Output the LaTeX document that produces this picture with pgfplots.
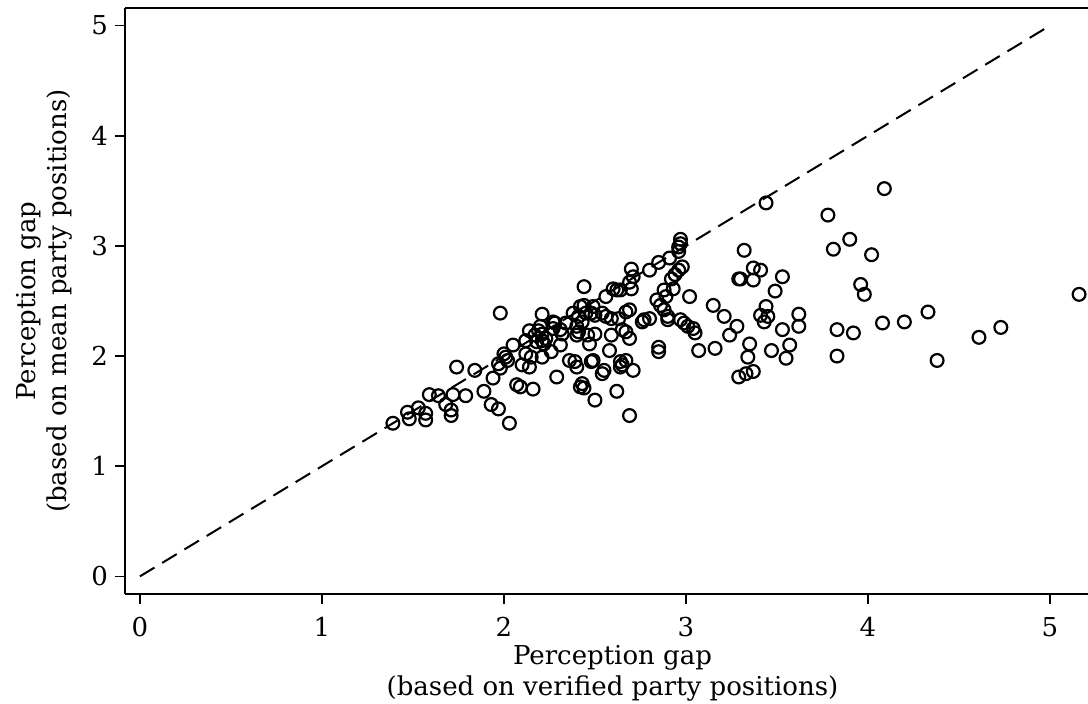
\documentclass[border=0pt]{standalone}
\usepackage{pgfplots}
\pgfplotsset{compat=1.18}
\usepackage{fontspec}
\setmainfont{DejaVu Serif}
\begin{document}
\begin{tikzpicture}
\begin{axis}[
  at={(62.5pt,55pt)}, anchor=south west,
  scale only axis, width=481.5pt, height=293pt,
  xmin=-0.082, xmax=5.209, ymin=-0.16, ymax=5.16,
  axis x line=box, axis y line=left,
  axis line style={-, line width=0.75pt},
  xtick={0,1,2,3,4,5}, ytick={0,1,2,3,4,5},
  xtick pos=bottom, ytick pos=left,
  tick align=outside, major tick length=5pt,
  tick style={black, line width=0.75pt},
  /pgf/number format/assume math mode=true,
  ticklabel style={font=\fontsize{13}{15}\selectfont},
  xticklabel style={yshift=-3pt},
  label style={font=\fontsize{13}{15.5}\selectfont, align=center},
  xlabel={Perception gap\\(based on verified party positions)},
  ylabel={Perception gap\\(based on mean party positions)},
  xlabel style={at={(axis description cs:0.5,0)}, anchor=north, yshift=-22pt, xshift=3pt},
  ylabel style={at={(ticklabel cs:0.5,2.5pt)}},
]
\addplot[black, line width=1pt, dash pattern=on 8.5pt off 4.5pt] coordinates {(0,0) (5,5)};
\addplot[only marks, mark=o, mark size=3.2pt, mark options={line width=1.1pt, black}] coordinates {
(1.39,1.39) (1.47,1.49) (1.48,1.43) (1.53,1.53) (1.57,1.48) (1.57,1.42) (1.59,1.65) (1.64,1.64)
(1.68,1.56) (1.71,1.51) (1.71,1.46) (1.72,1.65) (1.74,1.90) (1.79,1.64) (1.84,1.87) (1.89,1.68)
(1.93,1.56) (1.97,1.52) (1.94,1.80) (1.97,1.93) (1.98,1.89) (1.98,2.39) (2.00,2.02) (2.01,1.99)
(2.02,1.96) (2.03,1.39) (2.05,2.10)
(2.07,1.74) (2.09,1.72) (2.10,1.92) (2.12,2.02) (2.15,1.99) (2.14,1.90) (2.16,1.70) (2.12,2.14)
(2.14,2.23) (2.17,2.19) (2.18,2.13) (2.19,2.23) (2.20,2.27) (2.21,2.20) (2.21,2.14) (2.22,2.11)
(2.23,2.16) (2.21,2.38) (2.21,1.99) (2.26,2.04) (2.27,2.31) (2.28,2.30) (2.27,2.25) (2.29,1.81)
(2.31,2.10) (2.31,2.24) (2.32,2.20) (2.34,2.30)
(2.36,1.96) (2.39,1.95) (2.40,1.90) (2.38,2.39) (2.42,2.45) (2.44,2.46) (2.45,2.39) (2.41,2.36)
(2.43,2.31) (2.40,2.27) (2.41,2.22) (2.40,2.19) (2.48,2.39) (2.50,2.37) (2.44,2.63) (2.42,1.72)
(2.43,1.75) (2.44,1.71) (2.46,2.19) (2.50,2.20) (2.47,2.11) (2.48,1.95) (2.49,1.96) (2.50,1.60)
(2.49,2.45) (2.54,2.39) (2.55,1.87) (2.54,1.84) (2.56,2.54) (2.56,2.36)
(2.58,2.05) (2.59,2.19) (2.59,2.34) (2.60,2.61) (2.62,2.60) (2.64,2.60) (2.63,2.34) (2.62,1.68)
(2.64,1.95) (2.65,1.92) (2.67,1.96) (2.64,1.90) (2.65,2.24) (2.67,2.22) (2.69,2.16) (2.67,2.40)
(2.69,2.42) (2.69,1.46) (2.70,2.61) (2.70,2.79) (2.71,2.72) (2.69,2.67) (2.71,1.87)
(2.76,2.31) (2.77,2.33) (2.80,2.34) (2.80,2.78) (2.85,2.85) (2.85,2.08) (2.85,2.04) (2.84,2.51)
(2.86,2.46) (2.88,2.42) (2.90,2.36) (2.90,2.33) (2.88,2.60) (2.93,2.61) (2.89,2.54) (2.91,2.89)
(2.97,3.06) (2.97,3.02) (2.96,2.99) (2.96,2.95) (2.98,2.81) (2.96,2.78) (2.94,2.74) (2.92,2.70)
(2.97,2.33) (2.99,2.30) (3.01,2.27) (3.04,2.25) (3.05,2.21) (3.02,2.54) (3.07,2.05) (3.15,2.46)
(3.16,2.07) (3.21,2.36) (3.24,2.19) (3.28,2.27) (3.32,2.96) (3.29,2.70) (3.30,2.70) (3.37,2.69)
(3.37,2.80) (3.41,2.78) (3.44,3.39) (3.29,1.81) (3.33,1.84) (3.37,1.86) (3.35,2.11) (3.34,1.99)
(3.41,2.37) (3.44,2.45) (3.45,2.36) (3.43,2.31) (3.47,2.05) (3.49,2.59) (3.53,2.72) (3.53,2.24)
(3.57,2.10) (3.55,1.98) (3.62,2.38) (3.62,2.27) (3.78,3.28) (3.81,2.97) (3.90,3.06) (4.02,2.92)
(3.96,2.65) (3.98,2.56) (4.08,2.30) (3.83,2.24) (3.92,2.21) (3.83,2.00) (4.09,3.52) (4.20,2.31)
(4.33,2.40) (4.38,1.96) (4.61,2.17) (4.73,2.26) (5.16,2.56)
};
\end{axis}
\pgfresetboundingbox
\path (0,0) rectangle (544pt,352pt);
\end{tikzpicture}
\end{document}
